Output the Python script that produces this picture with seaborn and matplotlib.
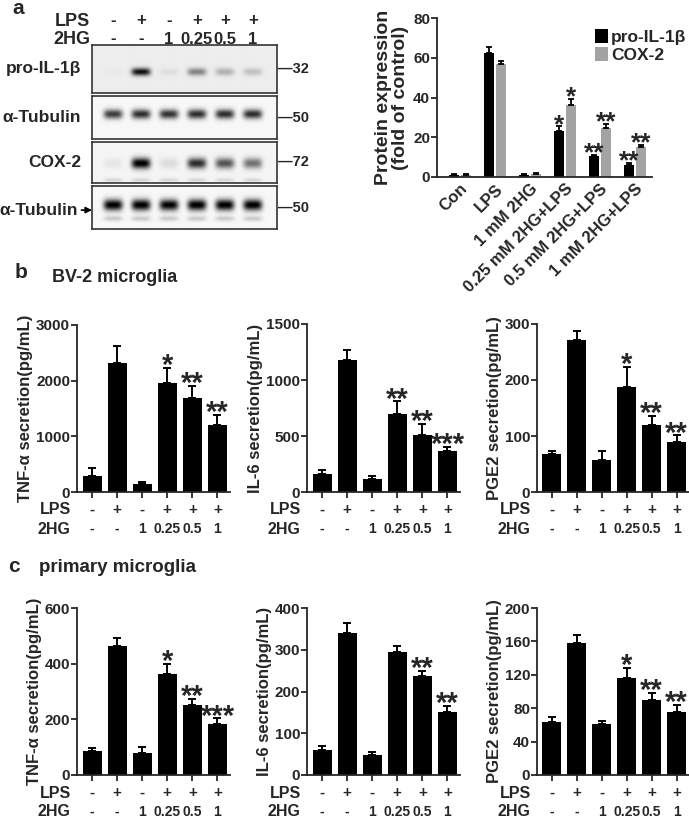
import numpy as np
import pandas as pd
import seaborn as sns
import matplotlib.pyplot as plt
from matplotlib import transforms

sns.set_theme(style="ticks")
plt.rcParams["font.family"] = ["Liberation Sans", "DejaVu Sans"]
plt.rcParams["font.weight"] = "bold"
plt.rcParams["axes.labelweight"] = "bold"
plt.rcParams["axes.linewidth"] = 1.3

W, H = 689, 819

# treatment rows under every chart
lps = ["-", "+", "-", "+", "+", "+"]
hg = ["-", "-", "1", "0.25", "0.5", "1"]

# western blot band intensities (0 = none, 1 = saturated)
blot_names = ["pro-IL-1β", "α-Tubulin", "COX-2", "α-Tubulin"]
blot_mw = ["32", "50", "72", "50"]
band_il1b = [0.02, 0.88, 0.06, 0.42, 0.24, 0.18]
band_tub1 = [0.74, 0.80, 0.78, 0.80, 0.80, 0.80]
band_cox2 = [0.06, 1.00, 0.10, 0.80, 0.64, 0.52]
band_tub2 = [1.00, 1.00, 0.98, 1.00, 1.00, 1.00]

# panel a quantification
groups = ["Con", "LPS", "1 mM 2HG", "0.25 mM 2HG+LPS", "0.5 mM 2HG+LPS", "1 mM 2HG+LPS"]
il1b_mean = [1.0, 62.5, 1.2, 23.0, 10.5, 6.0]
il1b_err = [0.3, 3.0, 0.3, 2.5, 0.8, 1.2]
cox2_mean = [1.0, 57.0, 1.5, 36.0, 24.5, 15.0]
cox2_err = [0.4, 1.5, 0.4, 3.2, 2.2, 1.2]
il1b_stars = ["", "", "", "*", "**", "**"]
cox2_stars = ["", "", "", "*", "**", "**"]

# panel b: BV-2 microglia
bv2_tnf = [280, 2320, 150, 1960, 1680, 1200]
bv2_tnf_err = [160, 300, 30, 270, 230, 180]
bv2_tnf_stars = ["", "", "", "*", "**", "**"]
bv2_il6 = [165, 1180, 120, 700, 510, 370]
bv2_il6_err = [30, 90, 25, 110, 100, 35]
bv2_il6_stars = ["", "", "", "**", "**", "***"]
bv2_pge2 = [68, 272, 58, 187, 120, 90]
bv2_pge2_err = [5, 15, 15, 37, 16, 11]
bv2_pge2_stars = ["", "", "", "*", "**", "**"]

# panel c: primary microglia
pri_tnf = [88, 465, 80, 362, 252, 185]
pri_tnf_err = [10, 28, 22, 38, 22, 18]
pri_tnf_stars = ["", "", "", "*", "**", "***"]
pri_il6 = [60, 340, 48, 295, 237, 150]
pri_il6_err = [10, 25, 8, 13, 12, 15]
pri_il6_stars = ["", "", "", "", "**", "**"]
pri_pge2 = [63, 158, 61, 116, 90, 75]
pri_pge2_err = [7, 10, 4, 12, 8, 9]
pri_pge2_stars = ["", "", "", "*", "**", "**"]


def px(x0, y0, x1, y1):
    return [x0 / W, 1 - y1 / H, (x1 - x0) / W, (y1 - y0) / H]


def fy(y):
    return 1 - y / H


def add_stars(ax, x, top, s, size=21):
    if s:
        ax.annotate(s, (x, top), xytext=(0, -4.5 * size / 21), textcoords="offset points",
                    ha="center", va="baseline", fontsize=size, fontweight="bold")


fig = plt.figure(figsize=(W / 100, H / 100), dpi=100)

# ---------- panel a: blot ----------
fig.text(12 / W, fy(9), "a", fontsize=15, fontweight="bold", va="center")
rows = [(45, 93), (96, 139), (142, 183), (186, 229)]
bands = [band_il1b, band_tub1, band_cox2, band_tub2]
band_y = [[(0.56, 0.08)], [(0.42, 0.11)], [(0.52, 0.13), (0.93, 0.05)],
          [(0.44, 0.13), (0.76, 0.06)]]
faint = [None, None, 0.12, 0.18]
background = [0.93, 0.97, 0.96, 0.97]
xlim_blot = (-0.75, 5.86)
xs = np.linspace(*xlim_blot, 400)
ys = np.linspace(0, 1, 120)
blot_axes = []
for k, (y0, y1) in enumerate(rows):
    ax = fig.add_axes(px(92, y0, 277, y1))
    img = np.full((len(ys), len(xs)), background[k])
    for i, inten in enumerate(bands[k]):
        prof_x = np.exp(-((xs - i) / 0.34) ** 4)
        yc, hy = band_y[k][0]
        img -= inten * prof_x[None, :] * np.exp(-((ys - yc) / hy) ** 2)[:, None]
        if len(band_y[k]) > 1:
            yc2, hy2 = band_y[k][1]
            img -= faint[k] * prof_x[None, :] * np.exp(-((ys - yc2) / hy2) ** 2)[:, None]
    ax.imshow(np.clip(img, 0, 1), cmap="gray", vmin=0, vmax=1, aspect="auto",
              extent=(xlim_blot[0], xlim_blot[1], 1, 0), interpolation="bilinear")
    ax.set_xlim(*xlim_blot)
    ax.set_ylim(1, 0)
    ax.set_xticks([])
    ax.set_yticks([])
    for sp in ax.spines.values():
        sp.set_linewidth(1.2)
        sp.set_color("#333333")
    ax.text(1.005, 0.5, "\u2014" + blot_mw[k], transform=ax.transAxes, ha="left",
            va="center", fontsize=10.5, fontweight="bold")
    blot_axes.append(ax)

for k in range(3):
    ax = blot_axes[k]
    ax.text(-0.06, 0.5, blot_names[k], transform=ax.transAxes, ha="right",
            va="center", fontsize=12.5, fontweight="bold")
blot_axes[3].annotate(blot_names[3], xy=(0.0, 0.44), xycoords="axes fraction",
                      xytext=(-0.075, 0.44), textcoords="axes fraction",
                      ha="right", va="center", fontsize=12.5, fontweight="bold",
                      arrowprops=dict(arrowstyle="-|>", color="black", lw=1.2,
                                      mutation_scale=9, shrinkA=0, shrinkB=0))

top_ax = blot_axes[0]
tr = transforms.blended_transform_factory(top_ax.transData, fig.transFigure)
for i in range(6):
    top_ax.text(i, fy(21), lps[i], transform=tr, ha="center", va="center",
                fontsize=12, fontweight="bold")
    top_ax.text(i, fy(39), hg[i], transform=tr, ha="center", va="center",
                fontsize=12, fontweight="bold")
fig.text(90 / W, fy(21), "LPS", ha="right", va="center", fontsize=13, fontweight="bold")
fig.text(90 / W, fy(39), "2HG", ha="right", va="center", fontsize=13, fontweight="bold")

# ---------- panel a: quantification ----------
qdf = pd.DataFrame({
    "group": groups * 2,
    "protein": ["pro-IL-1β"] * 6 + ["COX-2"] * 6,
    "value": il1b_mean + cox2_mean,
})
ax = fig.add_axes(px(437, 18, 652, 177))
sns.barplot(data=qdf, x="group", y="value", hue="protein", order=groups,
            hue_order=["pro-IL-1β", "COX-2"], palette=["black", "#a3a3a3"],
            width=0.68, gap=0.12, errorbar=None, linewidth=0, ax=ax)
for cont, errs, stars in zip(ax.containers, [il1b_err, cox2_err], [il1b_stars, cox2_stars]):
    for p, e, s in zip(cont.patches, errs, stars):
        xc = p.get_x() + p.get_width() / 2
        top = p.get_height()
        ax.errorbar(xc, top, yerr=[[0], [e]], fmt="none", ecolor="black",
                    elinewidth=1.3, capsize=2.5, capthick=1.3)
        add_stars(ax, xc, top + e, s, size=19)
ax.set_xlim(-0.66, 5.49)
ax.set_ylim(0, 80)
ax.set_yticks([0, 20, 40, 60, 80])
ax.set_xlabel("")
ax.set_ylabel("Protein expression\n(fold of control)", fontsize=14, fontweight="bold",
              linespacing=1.0, labelpad=3)
ax.set_xticklabels(groups, rotation=45, ha="right", rotation_mode="anchor",
                   fontsize=12, fontweight="bold")
ax.tick_params(axis="y", labelsize=11, width=1.3, length=4, pad=1)
ax.tick_params(axis="x", width=0, length=0, pad=3)
sns.despine(ax=ax)
sns.move_legend(ax, "upper left", bbox_to_anchor=(0.66, 1.03), frameon=False, title=None,
                handlelength=0.8, handleheight=0.9, handletextpad=0.15,
                labelspacing=0.1, prop={"size": 12.5, "weight": "bold"})


# ---------- panels b and c ----------
def secretion_panel(rect, means, errs, stars, ymax, yticks, ylabel):
    ax = fig.add_axes(px(*rect))
    sns.barplot(x=list(range(6)), y=means, color="black", width=0.76,
                errorbar=None, linewidth=0, ax=ax)
    for p, e, s in zip(ax.patches, errs, stars):
        xc = p.get_x() + p.get_width() / 2
        top = p.get_height()
        ax.errorbar(xc, top, yerr=[[0], [e]], fmt="none", ecolor="black",
                    elinewidth=1.4, capsize=3, capthick=1.4)
        add_stars(ax, xc, top + e, s)
    ax.set_xlim(-0.6, 5.5)
    ax.set_ylim(0, ymax)
    ax.set_yticks(yticks)
    ax.set_xticks(range(6))
    ax.set_xticklabels([])
    ax.set_ylabel(ylabel, fontsize=12, fontweight="bold", labelpad=2)
    ax.tick_params(axis="y", labelsize=11, width=1.3, length=4, pad=1)
    ax.tick_params(axis="x", width=1.3, length=4)
    sns.despine(ax=ax)
    trb = transforms.blended_transform_factory(ax.transData, ax.transAxes)
    h = rect[3] - rect[1]
    for i in range(6):
        ax.text(i, -18 / h, lps[i], transform=trb, ha="center", va="center",
                fontsize=11, fontweight="bold")
        ax.text(i, -37 / h, hg[i], transform=trb, ha="center", va="center",
                fontsize=10, fontweight="bold")
    ax.text(-0.85, -18 / h, "LPS", transform=trb, ha="right", va="center",
            fontsize=11.5, fontweight="bold")
    ax.text(-0.85, -37 / h, "2HG", transform=trb, ha="right", va="center",
            fontsize=11.5, fontweight="bold")
    return ax


fig.text(15 / W, fy(273), "b", fontsize=15, fontweight="bold", va="center")
fig.text(52 / W, fy(277), "BV-2 microglia", fontsize=13, fontweight="bold", va="center")
secretion_panel((77, 325, 230, 492), bv2_tnf, bv2_tnf_err, bv2_tnf_stars, 3000,
                [0, 1000, 2000, 3000], "TNF-α secretion(pg/mL)")
secretion_panel((307, 324, 460, 492), bv2_il6, bv2_il6_err, bv2_il6_stars, 1500,
                [0, 500, 1000, 1500], "IL-6 secretion(pg/mL)")
secretion_panel((537, 324, 689, 492), bv2_pge2, bv2_pge2_err, bv2_pge2_stars, 300,
                [0, 100, 200, 300], "PGE2 secretion(pg/mL)")

fig.text(8 / W, fy(567), "c", fontsize=15, fontweight="bold", va="center")
fig.text(39 / W, fy(567), "primary microglia", fontsize=13.5, fontweight="bold", va="center")
secretion_panel((77, 608, 230, 775), pri_tnf, pri_tnf_err, pri_tnf_stars, 600,
                [0, 200, 400, 600], "TNF-α secretion(pg/mL)")
secretion_panel((307, 608, 460, 775), pri_il6, pri_il6_err, pri_il6_stars, 400,
                [0, 100, 200, 300, 400], "IL-6 secretion(pg/mL)")
secretion_panel((537, 608, 689, 775), pri_pge2, pri_pge2_err, pri_pge2_stars, 200,
                [0, 40, 80, 120, 160, 200], "PGE2 secretion(pg/mL)")

fig.savefig("out.png", dpi=100)
